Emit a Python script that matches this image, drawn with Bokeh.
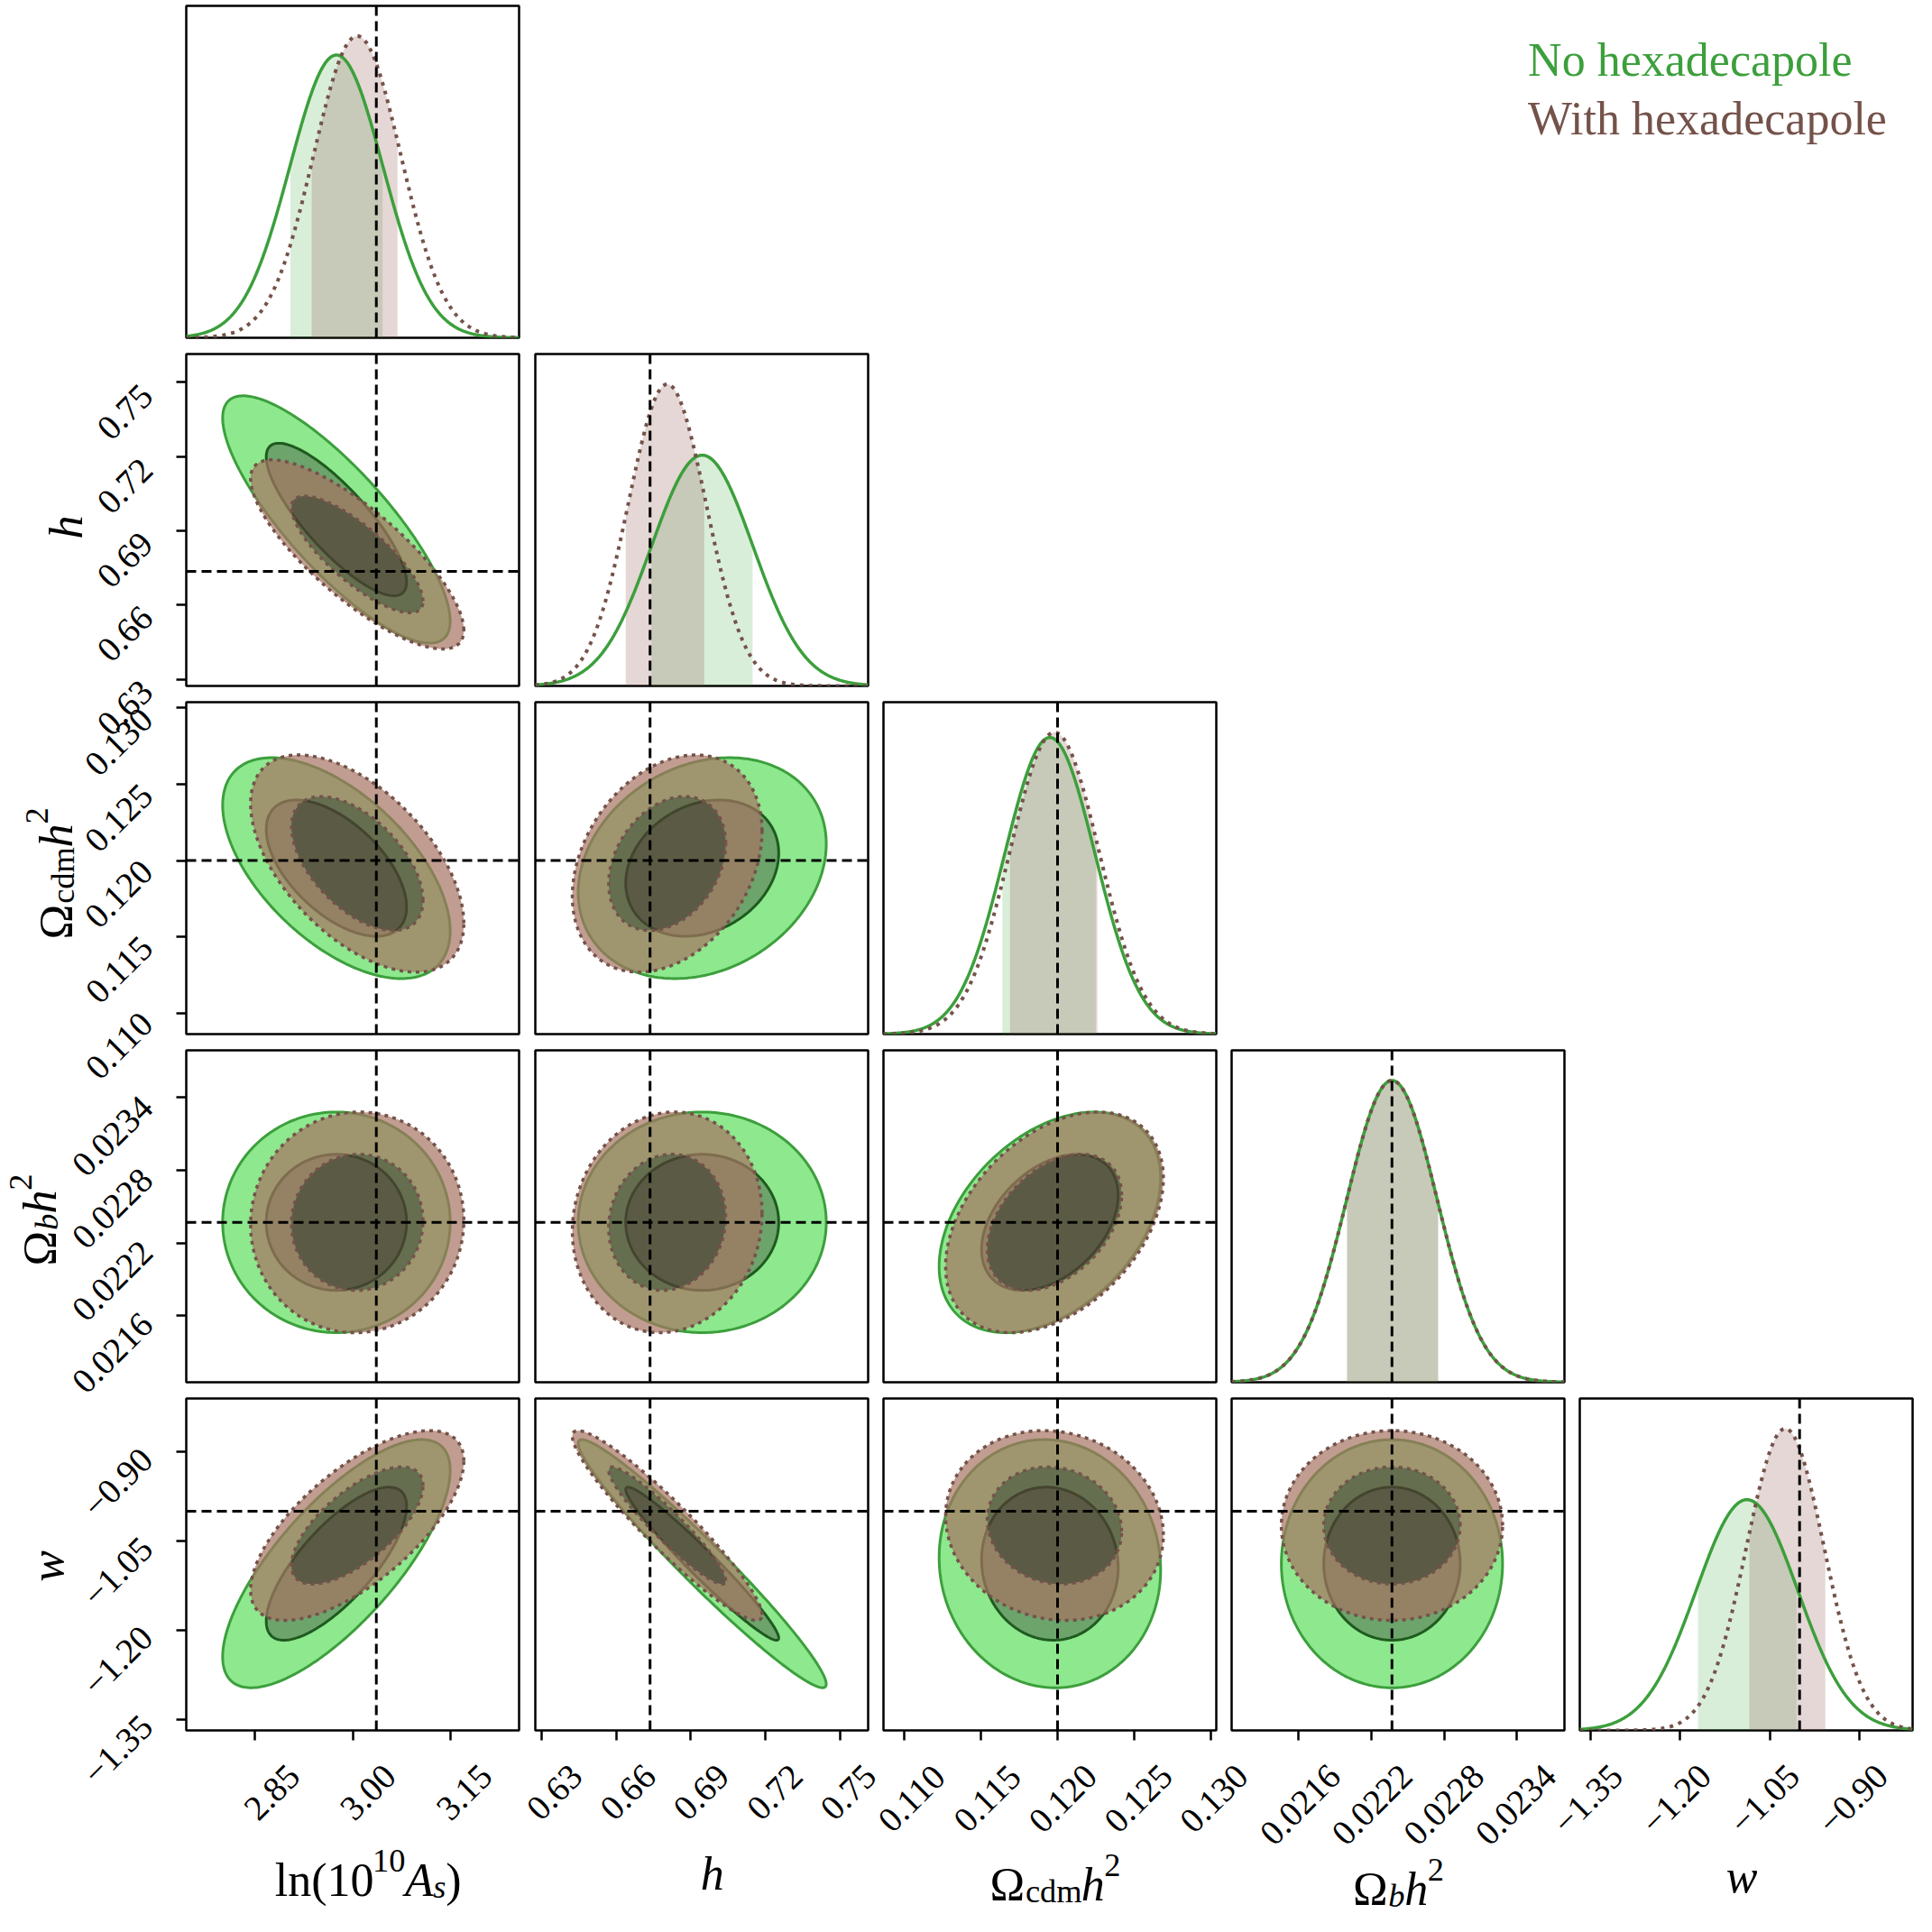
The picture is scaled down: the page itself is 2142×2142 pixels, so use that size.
import numpy as np
from bokeh.plotting import figure
from bokeh.models import Range1d, FixedTicker, Span, GridBox
from bokeh.embed import file_html
from bokeh.resources import INLINE
from bokeh.core.properties import value

# ---------------- data ----------------
param_names = ["lnAs", "h", "omega_cdm", "omega_b", "w"]
axis_lo = [2.744, 0.6274, 0.10865, 0.02105, -1.3676]
axis_hi = [3.256, 0.7614, 0.13035, 0.02379, -0.8110]
fiducial = [3.0364, 0.6736, 0.1200, 0.02237, -1.0]

tick_values = [
    [2.85, 3.00, 3.15],
    [0.63, 0.66, 0.69, 0.72, 0.75],
    [0.110, 0.115, 0.120, 0.125, 0.130],
    [0.0216, 0.0222, 0.0228, 0.0234],
    [-1.35, -1.20, -1.05, -0.90],
]
tick_labels = [
    ["2.85", "3.00", "3.15"],
    ["0.63", "0.66", "0.69", "0.72", "0.75"],
    ["0.110", "0.115", "0.120", "0.125", "0.130"],
    ["0.0216", "0.0222", "0.0228", "0.0234"],
    ["\u22121.35", "\u22121.20", "\u22121.05", "\u22120.90"],
]

series_names = ["No hexadecapole", "With hexadecapole"]

# posterior summaries: mean, standard deviation, 68% interval, correlations
nohex_mean = [2.975, 0.6946, 0.1195, 0.02237, -1.088]
nohex_sigma = [0.0715, 0.0204, 0.00295, 0.000372, 0.085]
nohex_band_lo = [2.904, 0.6742, 0.1164, 0.02200, -1.170]
nohex_band_hi = [3.046, 0.7149, 0.1225, 0.02275, -1.005]
nohex_corr = [
    [1.00, -0.82, -0.57, 0.00, 0.75],
    [-0.82, 1.00, 0.22, 0.00, -0.97],
    [-0.57, 0.22, 1.00, 0.40, -0.05],
    [0.00, 0.00, 0.40, 1.00, 0.00],
    [0.75, -0.97, -0.05, 0.00, 1.00],
]

hex_mean = [3.007, 0.6805, 0.1198, 0.02237, -1.024]
hex_sigma = [0.067, 0.0156, 0.0029, 0.000372, 0.065]
hex_band_lo = [2.937, 0.6638, 0.1169, 0.02200, -1.084]
hex_band_hi = [3.069, 0.6954, 0.1226, 0.02275, -0.957]
hex_corr = [
    [1.00, -0.80, -0.55, 0.02, 0.68],
    [-0.80, 1.00, 0.30, 0.08, -0.94],
    [-0.55, 0.30, 1.00, 0.40, -0.10],
    [0.02, 0.08, 0.40, 1.00, 0.00],
    [0.68, -0.94, -0.10, 0.00, 1.00],
]
contour_mass = [0.68, 0.95]

# ---------------- style / layout ----------------
FONT = "Liberation Serif"
TICK_SIZE = 39
LABEL_SIZE = 52
G_LINE = "#3c9f3c"
G_IN_LINE = "#1f5a1f"
G_OUT_FILL = "#8ee88e"
G_IN_FILL = "#6ca46c"
B_LINE = "#74524a"
B_OUT_FILL = "#a77462"
B_IN_FILL = "#543c35"

FW, FH = 369, 368          # frame size of every panel
LP = 20                    # left border of first-column panels (tick marks only)
BB = 20                    # bottom border of last-row panels (tick marks only)
YW = 206 - LP              # width of the left strip (y tick labels / y labels)
XH = 186                   # height of the bottom strip (x tick labels / x labels)
COLW = 9 + FW + 8
ROWH = 9 + FH + 9
TOP0 = 6

BW = (LP + FW + 9) + 4 * COLW                 # bottom strip width (panel columns)
col_frame_left = [LP] + [LP + FW + 9 + 9 + (c - 1) * COLW for c in range(1, 5)]
LH = 3 * ROWH + (9 + FH + BB) + XH            # left strip height (panel rows + bottom strip)
row_frame_top = [None] + [9 + (r - 1) * ROWH for r in range(1, 5)]
page_frame_bottom = 8 + TOP0 + FH + 9 + 3 * ROWH + 9 + FH
page_strip_top = page_frame_bottom + BB

k_levels = [float(np.sqrt(-2.0 * np.log(1.0 - m))) for m in contour_mass]
tt = np.linspace(0.0, 2.0 * np.pi, 241)


def ellipse(mx, my, sx, sy, rho, k):
    x = mx + k * sx * np.cos(tt)
    y = my + k * sy * (rho * np.cos(tt) + np.sqrt(1.0 - rho ** 2) * np.sin(tt))
    return x, y


def density(x, m, s):
    return np.exp(-0.5 * ((x - m) / s) ** 2) / (s * np.sqrt(2.0 * np.pi))


ADV = {"l": 0.278, "n": 0.5, "(": 0.333, ")": 0.333, "1": 0.5, "0": 0.5,
       "A": 0.611, "s": 0.389, "h": 0.5, "\u03a9": 0.768, "c": 0.444, "d": 0.5,
       "m": 0.778, "2": 0.5, "b": 0.5, "w": 0.667, ".": 0.25, "\u2212": 0.564}


def twidth(text, size):
    return sum(ADV.get(ch, 0.5) for ch in text) * size


label_pieces = [
    [("ln(10", 1.0, False, 0.0), ("10", 0.7, False, 0.42), ("A", 1.0, True, 0.0),
     ("s", 0.7, True, -0.15), (")", 1.0, False, 0.0)],
    [("h", 1.0, True, 0.0)],
    [("\u03a9", 1.0, False, 0.0), ("cdm", 0.7, False, -0.15), ("h", 1.0, True, 0.0),
     ("2", 0.7, False, 0.42)],
    [("\u03a9", 1.0, False, 0.0), ("b", 0.7, True, -0.15), ("h", 1.0, True, 0.0),
     ("2", 0.7, False, 0.42)],
    [("w", 1.0, True, 0.0)],
]
# baselines measured from the page top (x labels) / page left (y labels)
xlabel_page_y = [2092, 2085, 2097, 2102, 2088]
ylabel_page_x = [None, 81, 70, 52, 60]


def add_pieces(p, pieces, center, base, vertical):
    M = LABEL_SIZE
    total = sum(twidth(t, M * f) for t, f, it, dy in pieces)
    pos = center - total / 2.0
    for t, f, it, dy in pieces:
        kw = dict(text=[t], text_font=value(FONT), text_font_size=value(f"{M * f:.1f}px"),
                  text_font_style=value("italic" if it else "normal"), text_color="black",
                  text_align="left", text_baseline="alphabetic")
        if vertical:
            p.text(x=[base - dy * M], y=[pos], angle=np.pi / 2, **kw)
        else:
            p.text(x=[pos], y=[base + dy * M], **kw)
        pos += twidth(t, M * f)


def style_axis(ax, i):
    ax.ticker = FixedTicker(ticks=tick_values[i], minor_ticks=[])
    ax.major_label_overrides = {v: "" for v in tick_values[i]}
    ax.major_label_standoff = 0
    ax.major_tick_out = 11
    ax.major_tick_in = 0
    ax.major_tick_line_width = 2.5
    ax.major_tick_line_color = "black"
    ax.minor_tick_line_color = None
    ax.axis_line_color = None
    ax.axis_label = None


def blank(p):
    p.xgrid.visible = False
    p.ygrid.visible = False
    p.outline_line_color = None
    p.background_fill_color = "white"
    p.border_fill_color = "white"


series = [
    dict(mean=nohex_mean, sigma=nohex_sigma, lo=nohex_band_lo, hi=nohex_band_hi, corr=nohex_corr),
    dict(mean=hex_mean, sigma=hex_sigma, lo=hex_band_lo, hi=hex_band_hi, corr=hex_corr),
]
dash_fid = "11 6"

children = []
for r in range(5):
    for c in range(r + 1):
        if r == c:
            ymax = 1.1 * max(density(s["mean"][c], s["mean"][c], s["sigma"][c]) for s in series)
            yr = Range1d(0, ymax)
        else:
            yr = Range1d(axis_lo[r], axis_hi[r])
        p = figure(
            frame_width=FW, frame_height=FH,
            x_range=Range1d(axis_lo[c], axis_hi[c]), y_range=yr,
            min_border_left=LP if c == 0 else 9,
            min_border_right=9 if c == 0 else 8,
            min_border_top=TOP0 if r == 0 else 9,
            min_border_bottom=BB if r == 4 else 9,
            x_axis_location="below" if r == 4 else None,
            y_axis_location="left" if (c == 0 and r > 0) else None,
            output_backend="svg", toolbar_location=None, tools="", title=None,
        )
        p.xgrid.visible = False
        p.ygrid.visible = False
        p.outline_line_color = "black"
        p.outline_line_width = 2.5
        p.background_fill_color = "white"
        p.border_fill_color = "white"
        if r == 4:
            for ax in p.xaxis:
                style_axis(ax, c)
        if c == 0 and r > 0:
            for ax in p.yaxis:
                style_axis(ax, r)

        g, b = series
        if r == c:
            xs = np.linspace(axis_lo[c], axis_hi[c], 500)
            for s, col, a in ((g, "#2ca02c", 0.18), (b, "#8c564b", 0.235)):
                xb = np.linspace(s["lo"][c], s["hi"][c], 200)
                p.varea(x=xb, y1=np.zeros_like(xb), y2=density(xb, s["mean"][c], s["sigma"][c]),
                        fill_color=col, fill_alpha=a)
            p.line(xs, density(xs, g["mean"][c], g["sigma"][c]), line_color=G_LINE, line_width=3.5)
            p.line(xs, density(xs, b["mean"][c], b["sigma"][c]), line_color=B_LINE, line_width=4,
                   line_dash="4 6")
            p.add_layout(Span(location=fiducial[c], dimension="height", line_color="black",
                              line_width=3, line_dash=dash_fid))
        else:
            gx95, gy95 = ellipse(g["mean"][c], g["mean"][r], g["sigma"][c], g["sigma"][r],
                                 g["corr"][r][c], k_levels[1])
            gx68, gy68 = ellipse(g["mean"][c], g["mean"][r], g["sigma"][c], g["sigma"][r],
                                 g["corr"][r][c], k_levels[0])
            p.patch(gx95, gy95, fill_color=G_OUT_FILL, line_color=G_LINE, line_width=3)
            p.patch(gx68, gy68, fill_color=G_IN_FILL, line_color=G_IN_LINE, line_width=3)
            bx95, by95 = ellipse(b["mean"][c], b["mean"][r], b["sigma"][c], b["sigma"][r],
                                 b["corr"][r][c], k_levels[1])
            bx68, by68 = ellipse(b["mean"][c], b["mean"][r], b["sigma"][c], b["sigma"][r],
                                 b["corr"][r][c], k_levels[0])
            p.multi_polygons(xs=[[[list(bx95), list(bx68[::-1])]]],
                             ys=[[[list(by95), list(by68[::-1])]]],
                             fill_color=B_OUT_FILL, fill_alpha=0.7, line_color=None)
            p.patch(bx68, by68, fill_color=B_IN_FILL, fill_alpha=0.7, line_color=None)
            p.line(bx95, by95, line_color=B_LINE, line_width=3.5, line_dash="4 5")
            p.line(bx68, by68, line_color=B_LINE, line_width=3.5, line_dash="4 5")
            p.add_layout(Span(location=fiducial[c], dimension="height", line_color="black",
                              line_width=3, line_dash=dash_fid))
            p.add_layout(Span(location=fiducial[r], dimension="width", line_color="black",
                              line_width=3, line_dash=dash_fid))
        children.append((p, r, c + 1))


def label_extent(text, size):
    # side of the box taken by a label rotated by 45 degrees
    return (twidth(text, size) + 0.68 * size) * np.sqrt(0.5)


# ---- bottom strip: x tick labels and x axis labels (one x scale per column) ----
bot = figure(width=BW, height=XH, x_range=Range1d(0, BW), y_range=Range1d(0, XH),
             x_axis_location=None, y_axis_location=None, min_border=0,
             output_backend="svg", toolbar_location=None, tools="", title=None)
blank(bot)
top_gap = (page_frame_bottom + 35) - page_strip_top       # top of tick label boxes
for c in range(5):
    span = (axis_hi[c] - axis_lo[c]) / FW
    start = axis_lo[c] - col_frame_left[c] * span
    bot.extra_x_ranges[f"c{c}"] = Range1d(start, start + BW * span)
    ys = [XH - (top_gap + label_extent(t, TICK_SIZE) / 2.0) for t in tick_labels[c]]
    bot.text(x=tick_values[c], y=ys, text=tick_labels[c], x_range_name=f"c{c}",
             angle=np.pi / 4, text_font=value(FONT), text_font_size=value(f"{TICK_SIZE}px"),
             text_color="black", text_align="center", text_baseline="middle")
    add_pieces(bot, label_pieces[c], col_frame_left[c] + FW / 2.0,
               XH - (xlabel_page_y[c] - page_strip_top), False)
children.append((bot, 5, 1, 1, 5))

# ---- left strip: y tick labels and y axis labels (one y scale per row) ----
lef = figure(width=YW, height=LH, x_range=Range1d(0, YW), y_range=Range1d(0, LH),
             x_axis_location=None, y_axis_location=None, min_border=0,
             output_backend="svg", toolbar_location=None, tools="", title=None)
blank(lef)
anchor_x = 170 - 8
for r in range(1, 5):
    span = (axis_hi[r] - axis_lo[r]) / FH
    u_bot = LH - (row_frame_top[r] + FH)
    start = axis_lo[r] - u_bot * span
    lef.extra_y_ranges[f"r{r}"] = Range1d(start, start + LH * span)
    lef.text(x=[anchor_x] * len(tick_values[r]), y=tick_values[r], text=tick_labels[r],
             y_range_name=f"r{r}", angle=np.pi / 4, text_font=value(FONT),
             text_font_size=value(f"{TICK_SIZE}px"), text_color="black",
             text_align="right", text_baseline="middle")
    add_pieces(lef, label_pieces[r], LH - (row_frame_top[r] + FH / 2.0),
               ylabel_page_x[r] - 8, True)
children.append((lef, 1, 0, 5, 1))

# ---- legend area (top right) ----
leg_w = 2 * COLW
leg_h = TOP0 + FH + 9
leg = figure(width=leg_w, height=leg_h, x_range=Range1d(0, leg_w), y_range=Range1d(0, leg_h),
             x_axis_location=None, y_axis_location=None, min_border=0,
             output_backend="svg", toolbar_location=None, tools="", title=None)
blank(leg)
leg_page_left = 8 + YW + BW - leg_w
for name, col, ypage in ((series_names[0], G_LINE, 70), (series_names[1], B_LINE, 138)):
    leg.text(x=[1700 - leg_page_left], y=[leg_h - (ypage - 8)], text=[name],
             text_font=value(FONT), text_font_size=value(f"{LABEL_SIZE}px"), text_color=col,
             text_align="left", text_baseline="alphabetic")
children.append((leg, 0, 4, 1, 2))

grid = GridBox(children=children, spacing=0)

open("out.html", "w").write(file_html(grid, INLINE))
